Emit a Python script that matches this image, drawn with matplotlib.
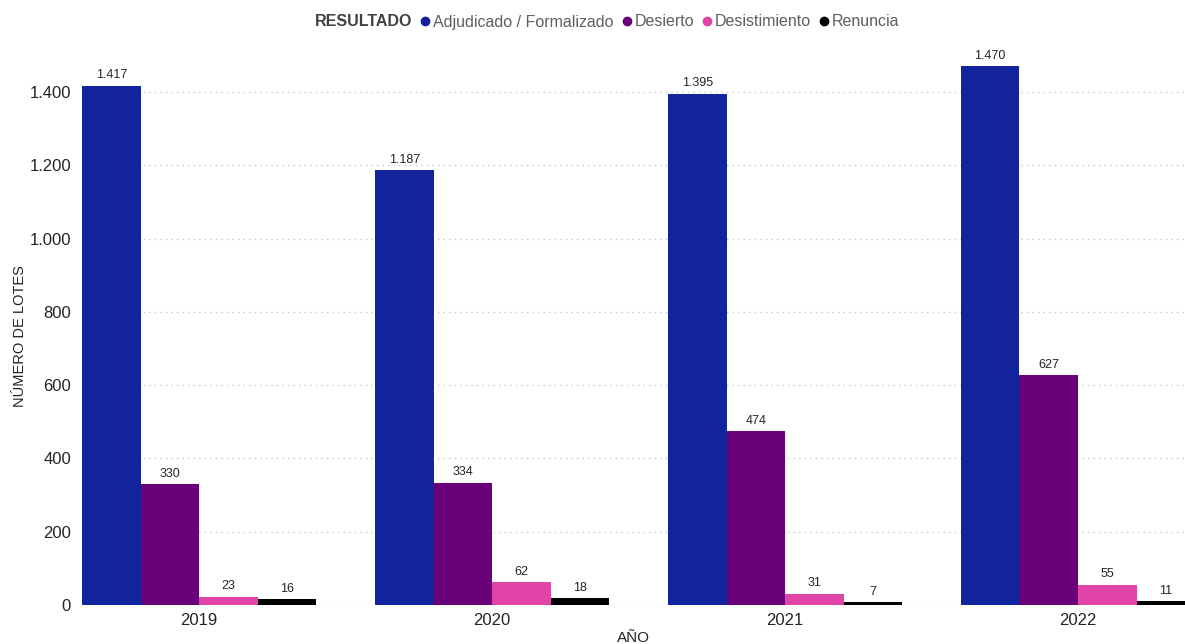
import numpy as np
import matplotlib
matplotlib.use("Agg")
import matplotlib.pyplot as plt
from matplotlib.lines import Line2D
from matplotlib.ticker import FuncFormatter

plt.rcParams['font.family'] = ['Liberation Sans', 'DejaVu Sans']

# datos
anios = ["2019", "2020", "2021", "2022"]
resultados = ["Adjudicado / Formalizado", "Desierto", "Desistimiento", "Renuncia"]
adjudicado = [1417, 1187, 1395, 1470]
desierto = [330, 334, 474, 627]
desistimiento = [23, 62, 31, 55]
renuncia = [16, 18, 7, 11]
colores = ["#12239E", "#6B007B", "#E044A7", "#000000"]

series = [adjudicado, desierto, desistimiento, renuncia]

def miles(v):
    return f"{int(v):,}".replace(",", ".")

fig = plt.figure(figsize=(11.85, 6.44), dpi=100)
ax = fig.add_axes([82 / 1185, 39 / 644, 1 - 82 / 1185, 549.6 / 644])

x = np.arange(len(anios))
ancho = 0.2
for j, (vals, col) in enumerate(zip(series, colores)):
    pos = x + (j - 1.5) * ancho
    barras = ax.bar(pos, vals, width=ancho, color=col, zorder=3)
    for b, v in zip(barras, vals):
        ax.text(b.get_x() + b.get_width() / 2, v + 12, miles(v),
                ha="center", va="bottom", fontsize=9, color="#252423")

ax.set_xlim(-0.4, 3.365)
ax.set_ylim(0, 1500)
ax.set_yticks(range(0, 1401, 200))
ax.yaxis.set_major_formatter(FuncFormatter(lambda v, p: miles(v)))
ax.set_xticks(x)
ax.set_xticklabels(anios)
ax.tick_params(axis="both", length=0, labelsize=12, colors="#252423")
ax.tick_params(axis="y", pad=8)
ax.tick_params(axis="x", pad=6)
ax.grid(axis="y", linestyle=(0, (1, 3)), color="#c8c8c8", linewidth=1, zorder=0)
for s in ax.spines.values():
    s.set_visible(False)

ax.set_ylabel("NÚMERO DE LOTES", fontsize=10.5, color="#252423")
ax.yaxis.set_label_coords(-0.050, 0.49)
ax.set_xlabel("AÑO", fontsize=11, color="#252423", labelpad=2)

handles = [Line2D([], [], linestyle="none")]
labels = ["RESULTADO"]
for nombre, col in zip(resultados, colores):
    handles.append(Line2D([], [], marker="o", linestyle="none", color=col, markersize=6))
    labels.append(nombre)
leg = fig.legend(handles, labels, loc="center", bbox_to_anchor=(601 / 1185, 1 - 22 / 644),
                 ncol=5, frameon=False, fontsize=11.5, handlelength=0.6, handletextpad=0.2,
                 columnspacing=0.5, labelcolor="#605E5C")
leg.get_texts()[0].set_fontweight("bold")
leg.get_texts()[0].set_color("#404040")

fig.savefig("out.png", dpi=100)
